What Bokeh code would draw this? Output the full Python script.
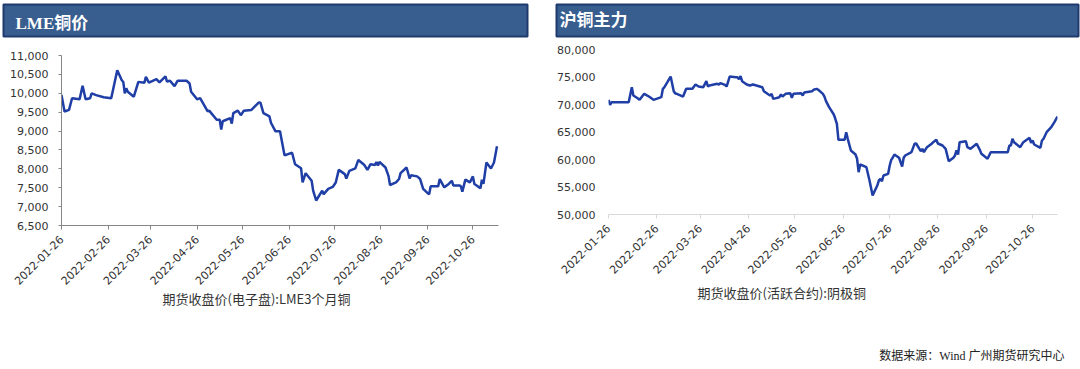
import math
import pandas as pd
from bokeh.plotting import figure
from bokeh.layouts import column, row
from bokeh.models import (Range1d, FixedTicker, DatetimeTickFormatter,
                          NumeralTickFormatter, ColumnDataSource, Title)
from bokeh.core.properties import value
from bokeh.embed import file_html
from bokeh.resources import INLINE

# ---------------- data ----------------
tick_labels = ["2022-01-26", "2022-02-26", "2022-03-26", "2022-04-26", "2022-05-26",
               "2022-06-26", "2022-07-26", "2022-08-26", "2022-09-26", "2022-10-26"]

lme_title = "LME铜价"
lme_label = "期货收盘价(电子盘):LME3个月铜"
lme_yticks = [6500, 7000, 7500, 8000, 8500, 9000, 9500, 10000, 10500, 11000]
lme_dates = [
    "2022-01-26", "2022-01-28", "2022-01-31", "2022-02-02", "2022-02-07", "2022-02-09",
    "2022-02-11", "2022-02-14", "2022-02-15", "2022-02-18", "2022-02-23", "2022-02-28",
    "2022-03-04", "2022-03-07", "2022-03-08", "2022-03-09", "2022-03-10", "2022-03-11",
    "2022-03-15", "2022-03-18", "2022-03-22", "2022-03-23", "2022-03-25", "2022-03-30",
    "2022-04-01", "2022-04-05", "2022-04-06", "2022-04-08", "2022-04-11", "2022-04-13",
    "2022-04-19", "2022-04-21", "2022-04-22", "2022-04-26", "2022-04-28", "2022-05-03",
    "2022-05-04", "2022-05-09", "2022-05-11", "2022-05-12", "2022-05-13", "2022-05-18",
    "2022-05-19", "2022-05-20", "2022-05-23", "2022-05-25", "2022-05-27", "2022-06-01",
    "2022-06-06", "2022-06-07", "2022-06-09", "2022-06-13", "2022-06-14", "2022-06-17",
    "2022-06-20", "2022-06-23", "2022-06-28", "2022-06-30", "2022-07-04", "2022-07-05",
    "2022-07-07", "2022-07-11", "2022-07-12", "2022-07-14", "2022-07-18", "2022-07-19",
    "2022-07-22", "2022-07-25", "2022-07-27", "2022-07-29", "2022-08-02", "2022-08-03",
    "2022-08-05", "2022-08-09", "2022-08-11", "2022-08-15", "2022-08-17", "2022-08-19",
    "2022-08-22", "2022-08-23", "2022-08-24", "2022-08-25", "2022-08-29", "2022-08-31",
    "2022-09-01", "2022-09-05", "2022-09-07", "2022-09-08", "2022-09-12", "2022-09-14",
    "2022-09-15", "2022-09-19", "2022-09-21", "2022-09-23", "2022-09-26", "2022-09-27",
    "2022-09-28", "2022-10-03", "2022-10-04", "2022-10-07", "2022-10-10", "2022-10-12",
    "2022-10-13", "2022-10-17", "2022-10-18", "2022-10-19", "2022-10-21", "2022-10-24",
    "2022-10-26", "2022-10-27", "2022-10-28", "2022-10-31", "2022-11-01", "2022-11-02",
    "2022-11-04", "2022-11-07", "2022-11-09", "2022-11-11"]
lme_values = [
    9953, 9517, 9560, 9867, 9840, 10200,
    9840, 9870, 9998, 9950, 9893, 9866,
    10607, 10346, 10300, 9998, 10130, 10040,
    9910, 10302, 10280, 10433, 10280, 10372,
    10290, 10450, 10310, 10330, 10190, 10330,
    10330, 10260, 10040, 9840, 9870, 9518,
    9540, 9300, 9300, 9038, 9260, 9343,
    9195, 9475, 9542, 9420, 9540, 9560,
    9760, 9750, 9475, 9387, 9220, 8993,
    8993, 8357, 8427, 8120, 8015, 7640,
    7885, 7685, 7423, 7162, 7423, 7330,
    7468, 7520, 7640, 7972, 7860, 7745,
    7947, 8010, 8235, 8100, 7972, 8120,
    8100, 8183, 8090, 8183, 8035, 7815,
    7572, 7640, 7730, 7885, 8035, 7745,
    7830, 7800, 7730, 7468, 7355, 7330,
    7538, 7538, 7730, 7510, 7600, 7685,
    7560, 7560, 7540, 7396, 7713, 7640,
    7800, 7600, 7572, 7485, 7713, 7600,
    8167, 8010, 8167, 8600]

shfe_title = "沪铜主力"
shfe_label = "期货收盘价(活跃合约):阴极铜"
shfe_yticks = [50000, 55000, 60000, 65000, 70000, 75000, 80000]
shfe_dates = [
    "2022-01-26", "2022-01-27", "2022-01-28", "2022-02-07", "2022-02-08", "2022-02-10",
    "2022-02-11", "2022-02-14", "2022-02-15", "2022-02-18", "2022-02-21", "2022-02-24",
    "2022-03-01", "2022-03-02", "2022-03-03", "2022-03-07", "2022-03-09", "2022-03-10",
    "2022-03-11", "2022-03-15", "2022-03-17", "2022-03-21", "2022-03-23", "2022-03-25",
    "2022-03-28", "2022-03-30", "2022-03-31", "2022-04-01", "2022-04-06", "2022-04-07",
    "2022-04-08", "2022-04-11", "2022-04-12", "2022-04-14", "2022-04-18", "2022-04-19",
    "2022-04-20", "2022-04-21", "2022-04-22", "2022-04-25", "2022-04-27", "2022-04-29",
    "2022-05-05", "2022-05-06", "2022-05-09", "2022-05-10", "2022-05-11", "2022-05-12",
    "2022-05-16", "2022-05-17", "2022-05-18", "2022-05-20", "2022-05-23", "2022-05-24",
    "2022-05-25", "2022-05-30", "2022-05-31", "2022-06-01", "2022-06-06", "2022-06-07",
    "2022-06-09", "2022-06-10", "2022-06-13", "2022-06-14", "2022-06-15", "2022-06-17",
    "2022-06-20", "2022-06-21", "2022-06-22", "2022-06-23", "2022-06-27", "2022-06-28",
    "2022-06-29", "2022-07-01", "2022-07-04", "2022-07-05", "2022-07-06", "2022-07-07",
    "2022-07-11", "2022-07-13", "2022-07-15", "2022-07-18", "2022-07-19", "2022-07-20",
    "2022-07-21", "2022-07-22", "2022-07-25", "2022-07-26", "2022-07-27", "2022-07-28",
    "2022-07-29", "2022-08-01", "2022-08-03", "2022-08-04", "2022-08-05", "2022-08-09",
    "2022-08-11", "2022-08-12", "2022-08-15", "2022-08-16", "2022-08-17", "2022-08-19",
    "2022-08-22", "2022-08-23", "2022-08-25", "2022-08-26", "2022-08-29", "2022-08-31",
    "2022-09-02", "2022-09-05", "2022-09-06", "2022-09-07", "2022-09-08", "2022-09-09",
    "2022-09-13", "2022-09-14", "2022-09-16", "2022-09-20", "2022-09-22", "2022-09-23",
    "2022-09-27", "2022-09-29", "2022-09-30", "2022-10-10", "2022-10-11", "2022-10-12",
    "2022-10-13", "2022-10-14", "2022-10-18", "2022-10-20", "2022-10-24", "2022-10-25",
    "2022-10-26", "2022-10-27", "2022-10-31", "2022-11-01", "2022-11-02", "2022-11-04",
    "2022-11-07", "2022-11-09", "2022-11-11"]
shfe_values = [
    70850, 69940, 70420, 70420, 70420, 73150,
    71640, 71100, 70850, 71940, 71450, 70850,
    71330, 72850, 73150, 75090, 72420, 72000,
    71940, 71450, 72850, 72850, 73640, 73270,
    73150, 74240, 73270, 73450, 73760, 73640,
    73900, 73580, 73270, 75090, 74970, 74970,
    74600, 75150, 74240, 73640, 73450, 73640,
    73150, 72420, 71820, 71630, 71940, 71030,
    71330, 71820, 71450, 71940, 72060, 71210,
    71940, 72060, 71640, 72180, 72420, 72670,
    72850, 72670, 71940, 71450, 70600, 69510,
    68180, 67400, 66490, 63580, 63580, 64960,
    63760, 61640, 60910, 60130, 57700, 59090,
    58600, 56180, 53450, 55270, 56180, 56450,
    56060, 57090, 57400, 58910, 59940, 60370,
    60910, 60310, 58730, 60310, 60730, 61330,
    62850, 62910, 61510, 61940, 61330, 62240,
    62850, 63150, 63580, 62910, 62550, 61940,
    59690, 60310, 60730, 61640, 60910, 63150,
    63330, 62240, 61940, 62850, 61760, 61030,
    60130, 61330, 61330, 61330, 62550, 62550,
    63760, 63150, 62240, 63150, 63940, 63030,
    63450, 62730, 62120, 63450, 63760, 64960,
    65870, 66780, 67820]

source_note = "数据来源：Wind  广州期货研究中心"

# ---------------- styles ----------------
LINE_COLOR = "#1f3ea6"
BAR_FILL = "#385d8f"
BAR_EDGE = "#1f3a6e"
TXT = "#333333"
TICK_FONT = "DejaVu Sans"
CJK = "Noto Sans CJK SC"

tick_ms = [pd.Timestamp(t).value // 10**6 for t in tick_labels]
fmt = "%Y-%m-%d"


def title_bar(text, w, h, bl, br, bt, bb, tx, ty):
    fw, fh = w - bl - br, h - bt - bb
    b = figure(width=w, height=h, x_range=Range1d(0, fw), y_range=Range1d(fh, 0),
               min_border_left=bl, min_border_right=br,
               min_border_top=bt, min_border_bottom=bb,
               x_axis_location=None, y_axis_location=None,
               background_fill_color=BAR_FILL, outline_line_color=BAR_EDGE,
               outline_line_width=2, output_backend="svg", toolbar_location=None)
    b.xgrid.visible = False
    b.ygrid.visible = False
    b.text(x=[tx], y=[ty], text=[text], text_color="white",
           text_font=value("Liberation Serif, Noto Sans CJK SC"),
           text_font_style="bold", text_font_size="17px",
           text_baseline="middle", text_align="left")
    return b


def chart(dates, vals, w, h, mbl, mbr, mbt, mbb, xend, yr, yticks,
          axis_color, show_y_line, y_standoff, y_tick_out,
          label, label_offset, label_standoff):
    p = figure(width=w, height=h, x_axis_type="datetime",
               x_range=Range1d(pd.Timestamp("2022-01-26"), pd.Timestamp(xend)),
               y_range=Range1d(*yr),
               min_border_left=mbl, min_border_right=mbr,
               min_border_top=mbt, min_border_bottom=mbb,
               output_backend="svg", toolbar_location=None)
    src = ColumnDataSource(dict(date=pd.to_datetime(dates), value=vals))
    p.line(x="date", y="value", source=src, line_color=LINE_COLOR, line_width=2.5)
    p.outline_line_color = None
    p.xgrid.visible = False
    p.ygrid.visible = False

    xa = p.xaxis[0]
    xa.ticker = FixedTicker(ticks=tick_ms)
    xa.formatter = DatetimeTickFormatter(days=fmt, months=fmt, years=fmt,
                                         hours=fmt, minutes=fmt)
    xa.major_label_orientation = math.pi / 4
    xa.axis_line_color = axis_color
    xa.major_tick_line_color = axis_color
    xa.major_tick_out = 4
    xa.major_tick_in = 0
    xa.minor_tick_line_color = None
    xa.major_label_text_font = TICK_FONT
    xa.major_label_text_font_size = "11px"
    xa.major_label_text_color = TXT
    xa.major_label_standoff = 8

    ya = p.yaxis[0]
    ya.ticker = FixedTicker(ticks=yticks)
    ya.formatter = NumeralTickFormatter(format="0,0")
    ya.axis_line_color = axis_color if show_y_line else None
    ya.major_tick_line_color = axis_color if show_y_line else None
    ya.major_tick_out = y_tick_out
    ya.major_tick_in = 0
    ya.minor_tick_line_color = None
    ya.major_label_text_font = TICK_FONT
    ya.major_label_text_font_size = "11px"
    ya.major_label_text_color = TXT
    ya.major_label_standoff = y_standoff

    t = Title(text=label, align="left", offset=label_offset, vertical_align="top",
              standoff=label_standoff, text_font=CJK, text_font_size="13px",
              text_font_style="normal", text_color=TXT)
    p.add_layout(t, "below")
    return p


# ---------------- layout ----------------
W = 540
bar_l = title_bar(lme_title, W, 40, 3, 13, 4, 4, 12, 19)
bar_r = title_bar(shfe_title, W, 40, 16, 2, 4, 4, 3, 16)

CH_H = 290
chart_l = chart(lme_dates, lme_values, W, CH_H, 61, 42, 15, 105, "2022-11-12",
                (6500, 11000), lme_yticks, "#868686", True, 10, 3,
                lme_label, 101, -6)
chart_r = chart(shfe_dates, shfe_values, W, CH_H, 68, 23, 9, 116, "2022-11-11",
                (50000, 80000), shfe_yticks, "#d9d9d9", False, 13, 0,
                shfe_label, 89, 4)

bottom = figure(width=1080, height=39, x_range=Range1d(0, 1080),
                y_range=Range1d(369, 330), min_border=0,
                x_axis_location=None, y_axis_location=None,
                output_backend="svg", toolbar_location=None)
bottom.outline_line_color = None
bottom.xgrid.visible = False
bottom.ygrid.visible = False
bottom.text(x=[1067], y=[355], text=[source_note],
            text_font=value("Liberation Serif, Noto Sans CJK SC"),
            text_font_size="12px", text_color="#222222",
            text_align="right", text_baseline="middle")

layout = column(
    row(bar_l, bar_r),
    row(column(chart_l), column(chart_r)),
    bottom,
)

open("out.html", "w").write(file_html(layout, INLINE))
